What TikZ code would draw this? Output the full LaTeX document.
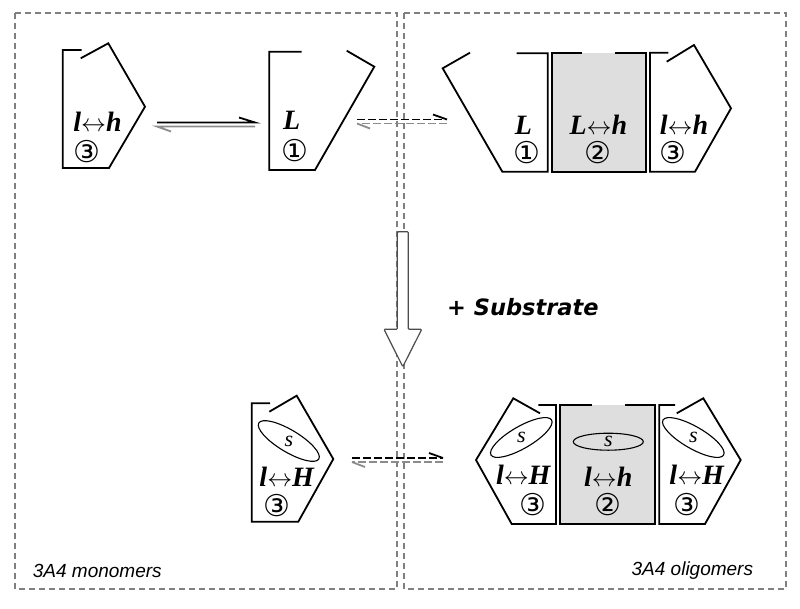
\documentclass[tikz,border=0pt]{standalone}
\usepackage{fontspec}
\setmainfont{Liberation Serif}
\newfontfamily\circfont{DejaVu Sans}
\newfontfamily\labfont{Liberation Sans}
\newfontfamily\subsfont{DejaVu Sans}
\usetikzlibrary{shapes.geometric}
\begin{document}
\begin{tikzpicture}[x=1pt,y=-1pt,
  frame/.style={draw=black!50, line width=1.2pt, dash pattern=on 6pt off 4pt},
  unit/.style={draw=black, line width=1.8pt, line join=miter},
  state/.style={inner sep=0pt, font=\fontsize{28}{28}\selectfont\bfseries\itshape},
  num/.style={inner sep=0pt, font=\fontsize{30}{30}\circfont},
  sub/.style={draw=black, line width=1.1pt, ellipse, inner sep=0pt, minimum width=70pt, minimum height=22pt},
  slab/.style={inner sep=0pt, font=\fontsize{22}{22}\selectfont\itshape},
  eqfwd/.style={draw=black, line width=1.8pt},
  eqback/.style={draw=black!45, line width=1.8pt},
  dsh/.style={dash pattern=on 8pt off 3pt},
  lab/.style={inner sep=0pt, font=\fontsize{19}{19}\labfont\itshape}
]
\useasboundingbox (0,0) rectangle (800,608);
% frames
\draw[frame] (15,13) rectangle (397,589);
\draw[frame] (404,13) rectangle (786,589);

% ---------- top monomers ----------
\draw[unit] (81.7,50) -- (62.7,50) -- (62.7,168) -- (109,168) -- (145,106.7) -- (108.3,43.3) -- (80.7,58.3);
\node[state] (t1) at (97.5,121.7) {l$\leftrightarrow$h};
\node[num] (c1) at (86.7,152) {③};

\draw[unit] (301.7,51.7) -- (269.3,51.7) -- (269.3,170) -- (315,170) -- (374.3,66.7) -- (346.7,50.7);
\node[state] (t2) at (291.7,120) {L};
\node[num] (c2) at (295,151) {①};

% solid equilibrium arrow
\coordinate (a1s) at (157,122.5); \coordinate (a1e) at (255,122.5);
\coordinate (b1s) at (157,126.5); \coordinate (b1e) at (255,126.5);
\draw[eqfwd] (a1s) -- (a1e) -- ++(-16,-5);
\draw[eqback] (b1e) -- (b1s) -- ++(14,5);

% dashed equilibrium arrow (top)
\coordinate (a2s) at (357,119.5); \coordinate (a2e) at (447,119.5);
\coordinate (b2s) at (357,123.5); \coordinate (b2e) at (447,123.5);
\draw[eqfwd,dsh] (a2s) -- (a2e);
\draw[eqfwd] (a2e) -- ++(-14,-5);
\draw[eqback,dsh] (b2e) -- (b2s);
\draw[eqback] (b2s) -- ++(13,5);

% ---------- top oligomer ----------
\draw[unit] (470,52.7) -- (442.7,68.3) -- (502.3,171.7) -- (547.7,171.7) -- (547.7,53.3) -- (516.7,53.3);
\node[state] (t3) at (523.3,125) {L};
\node[num] (c3) at (526.7,153) {①};

\fill[black!13] (551.7,52.7) rectangle (646,171.7);
\draw[unit] (581.7,52.7) -- (551.7,52.7) -- (551.7,171.7) -- (646,171.7) -- (646,52.7) -- (615,52.7);
\node[state] (t4) at (598.3,125) {L$\leftrightarrow$h};
\node[num] (c4) at (598.3,153) {②};

\draw[unit] (668.3,52.7) -- (650,52.7) -- (650,171.7) -- (695,171.7) -- (731,108.3) -- (694,45) -- (666.7,61.7);
\node[state] (t5) at (684,125) {l$\leftrightarrow$h};
\node[num] (c5) at (673.3,153) {③};

% ---------- big arrow and substrate ----------
\draw[draw=black!70, line width=1.2pt, fill=white, rounded corners=1pt]
  (397.3,231.7) -- (408.3,231.7) -- (408.3,329.3) -- (421.7,329.3) -- (402.8,366.7) -- (384,329.3) -- (397.3,329.3) -- cycle;
\node[inner sep=0pt, anchor=west, font=\fontsize{22.5}{22.5}\subsfont\bfseries\itshape] (subs) at (447,307) {+ Substrate};

% ---------- bottom monomer ----------
\draw[unit] (270,403.3) -- (251.7,403.3) -- (251.7,521.7) -- (298.3,521.7) -- (333.3,459) -- (296.7,395.7) -- (269.3,411.7);
\node[sub, rotate=-31] (e1) at (288.8,441) {};
\node[slab] (s1) at (e1) {s};
\node[state] (t6) at (286.7,476.7) {l$\leftrightarrow$H};
\node[num] (c6) at (276.7,506) {③};

% dashed equilibrium arrow (bottom)
\coordinate (a3s) at (352,458) ; \coordinate (a3e) at (443,458);
\coordinate (b3s) at (352,462) ; \coordinate (b3e) at (443,462);
\draw[eqfwd,dsh] (a3s) -- (a3e);
\draw[eqfwd] (a3e) -- ++(-14,-5);
\draw[eqback,dsh] (b3e) -- (b3s);
\draw[eqback] (b3s) -- ++(13,5);

% ---------- bottom oligomer ----------
\draw[unit] (538.3,405) -- (556,405) -- (556,524) -- (511.7,524) -- (476,460) -- (513.3,398.3) -- (540,413.3);
\node[sub, rotate=30] (e2) at (521.3,437.5) {};
\node[slab] (s2) at (e2) {s};
\node[state] (t7) at (523.3,475) {l$\leftrightarrow$H};
\node[num] (c7) at (533.3,505) {③};

\fill[black!13] (560,405) rectangle (655,524);
\draw[unit] (591.7,405) -- (560,405) -- (560,524) -- (655,524) -- (655,405) -- (625,405);
\node[sub, minimum width=70pt, minimum height=17pt] (e3) at (608.3,441.7) {};
\node[slab] (s3) at (e3) {s};
\node[state] (t8) at (608.3,476.7) {l$\leftrightarrow$h};
\node[num] (c8) at (608.3,505) {②};

\draw[unit] (675,405) -- (659.3,405) -- (659.3,524) -- (705,524) -- (740.7,460) -- (703.3,398.3) -- (676.7,413.3);
\node[sub, rotate=-30] (e4) at (693.3,437.5) {};
\node[slab] (s4) at (e4) {s};
\node[state] (t9) at (696.7,475) {l$\leftrightarrow$H};
\node[num] (c9) at (686.7,505) {③};

% labels
\node[lab, anchor=west] (mono) at (32.7,571) {3A4 monomers};
\node[lab, anchor=east] (oligo) at (753.3,571) {3A4 oligomers};
\end{tikzpicture}
\end{document}
